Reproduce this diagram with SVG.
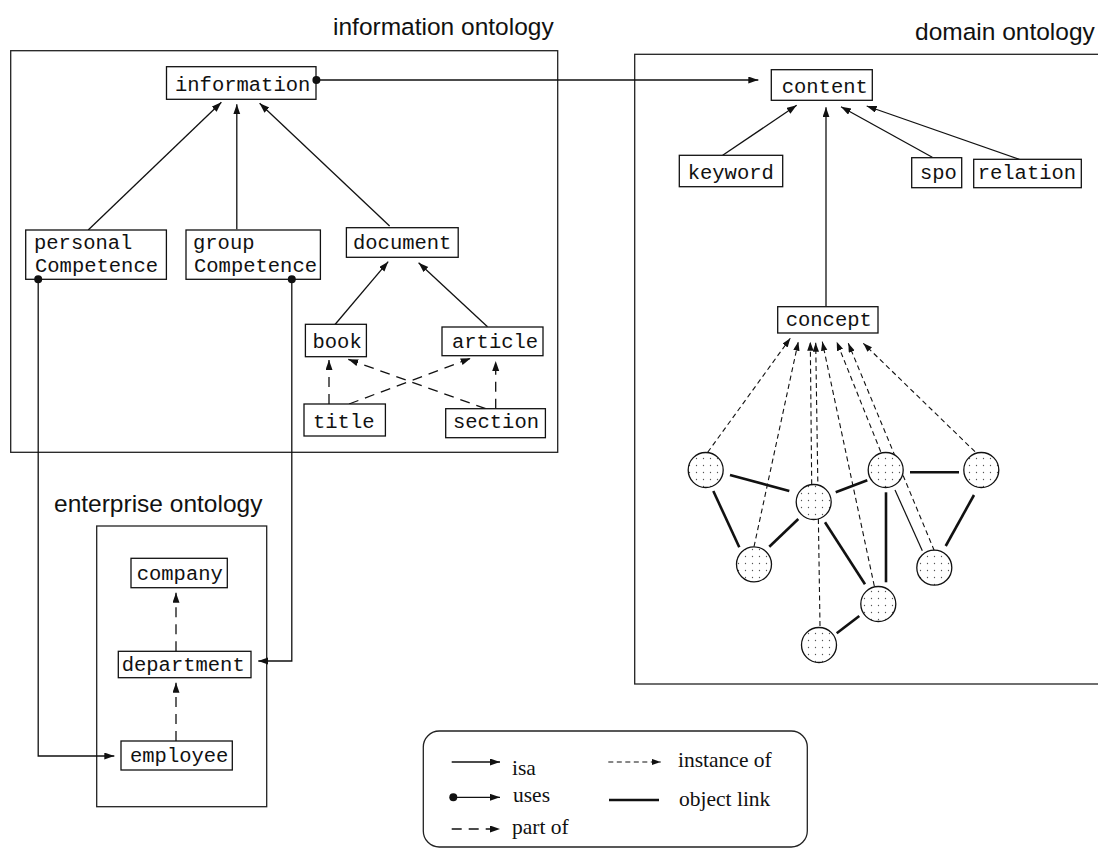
<svg xmlns="http://www.w3.org/2000/svg" width="1098" height="848" viewBox="0 0 1098 848">
  <style>
    .frame { fill: none; stroke: #222; stroke-width: 1.3; }
    .box { fill: #fff; stroke: #111; stroke-width: 1.3; }
    .mono { font-family: "Liberation Mono", "DejaVu Sans Mono", monospace; font-size: 20.5px; fill: #111; }
    .title { font-family: "Liberation Sans", Arial, sans-serif; font-size: 24.5px; fill: #111; }
    .serif { font-family: "Liberation Serif", "Times New Roman", serif; font-size: 21.5px; fill: #111; }
    .isa { fill: none; stroke: #111; stroke-width: 1.3; marker-end: url(#arrow); }
    .uses { fill: none; stroke: #111; stroke-width: 1.3; marker-start: url(#dot); marker-end: url(#arrow); }
    .partof { fill: none; stroke: #111; stroke-width: 1.3; stroke-dasharray: 10 7; marker-end: url(#arrow); }
    .inst { fill: none; stroke: #111; stroke-width: 1.1; stroke-dasharray: 5 3.5; marker-end: url(#arrowSmall); }
    .link { fill: none; stroke: #111; stroke-width: 2.6; }
    .thin { fill: none; stroke: #111; stroke-width: 1.2; }
    .inst-node { fill: url(#dots); stroke: #111; stroke-width: 1.3; }
  </style>
  <defs>
    <marker id="arrow" markerUnits="userSpaceOnUse" markerWidth="11" markerHeight="8" refX="10" refY="3.5" orient="auto">
      <path d="M0,0 L10,3.5 L0,7 z" fill="#111"/>
    </marker>
    <marker id="arrowSmall" markerUnits="userSpaceOnUse" markerWidth="10" markerHeight="8" refX="9" refY="3.2" orient="auto">
      <path d="M0,0 L9,3.2 L0,6.4 z" fill="#111"/>
    </marker>
    <marker id="dot" markerUnits="userSpaceOnUse" markerWidth="10" markerHeight="10" refX="5" refY="5" orient="auto">
      <circle cx="5" cy="5" r="4" fill="#111"/>
    </marker>
    <pattern id="dots" patternUnits="userSpaceOnUse" width="7" height="7">
      <rect width="7" height="7" fill="#fff"/>
      <circle cx="3.5" cy="3.5" r="0.65" fill="#555"/>
    </pattern>
  </defs>

  <!-- ontology frames and titles -->
  <g id="information-ontology">
    <rect class="frame" x="10.7" y="50.7" width="547" height="401.6"/>
    <text class="title" x="333" y="35">information ontology</text>
  </g>
  <g id="domain-ontology">
    <rect class="frame" x="634.7" y="54.3" width="470" height="629.7"/>
    <text class="title" x="915" y="40">domain ontology</text>
  </g>
  <g id="enterprise-ontology">
    <rect class="frame" x="96.7" y="526" width="170" height="280.7"/>
    <text class="title" x="54" y="511.7">enterprise ontology</text>
  </g>

  <!-- connectors drawn beneath the nodes -->
  <g id="connectors">
    <!-- isa: information ontology -->
    <line class="isa" x1="88.2" y1="230" x2="221.4" y2="102.3"/>
    <line class="isa" x1="236.8" y1="229.3" x2="236.8" y2="104.3"/>
    <line class="isa" x1="389.6" y1="226" x2="259.6" y2="103.3"/>
    <line class="isa" x1="334.6" y1="325" x2="388.2" y2="261.7"/>
    <line class="isa" x1="487.5" y1="326.7" x2="418.6" y2="262.7"/>
    <!-- part of: document parts -->
    <line class="partof" x1="329" y1="404" x2="329" y2="360"/>
    <line class="partof" x1="495.7" y1="408.7" x2="495.7" y2="361"/>
    <line class="partof" x1="349" y1="404" x2="470.7" y2="358.3"/>
    <line class="partof" x1="485.7" y1="408.7" x2="348.2" y2="359.3"/>
    <!-- part of: enterprise -->
    <line class="partof" x1="176" y1="651.3" x2="176" y2="592.7"/>
    <line class="partof" x1="176" y1="741" x2="176" y2="682.7"/>
    <!-- isa: domain ontology -->
    <line class="isa" x1="722.7" y1="155.3" x2="796.7" y2="105.3"/>
    <line class="isa" x1="826" y1="306.7" x2="826" y2="107.3"/>
    <line class="isa" x1="932.3" y1="157.3" x2="841" y2="106.7"/>
    <line class="isa" x1="1019.3" y1="159.3" x2="866.7" y2="106"/>
    <!-- instance of -->
    <line class="inst" x1="707.7" y1="452.3" x2="790.3" y2="338.3"/>
    <line class="inst" x1="754" y1="546.7" x2="798.3" y2="341.7"/>
    <line class="inst" x1="811.7" y1="484.3" x2="810.3" y2="341.7"/>
    <line class="inst" x1="820" y1="626" x2="815.7" y2="342.7"/>
    <line class="inst" x1="874.3" y1="586" x2="822.3" y2="341.7"/>
    <line class="inst" x1="880.7" y1="451.7" x2="836.7" y2="341.7"/>
    <line class="inst" x1="934.3" y1="550.7" x2="848.3" y2="343.3"/>
    <line class="inst" x1="975" y1="451.7" x2="863.3" y2="343.3"/>
    <!-- object links -->
    <line class="link" x1="730" y1="475" x2="789.3" y2="491"/>
    <line class="link" x1="713.3" y1="491" x2="739.3" y2="547.3"/>
    <line class="link" x1="835.7" y1="492.3" x2="867.3" y2="480.3"/>
    <line class="link" x1="910" y1="472.3" x2="959" y2="472.3"/>
    <line class="link" x1="798.3" y1="519" x2="769.3" y2="546.7"/>
    <line class="link" x1="825" y1="522.3" x2="865" y2="584.3"/>
    <line class="link" x1="886" y1="492.3" x2="886" y2="582.3"/>
    <line class="thin" x1="895" y1="490" x2="922.3" y2="550.7"/>
    <line class="link" x1="974" y1="495" x2="945.7" y2="546"/>
    <line class="link" x1="836.7" y1="633.3" x2="859.3" y2="616"/>
  </g>

  <!-- information ontology nodes -->
  <g id="node-information">
    <rect class="box" x="166.5" y="66.7" width="149.5" height="32.6"/>
    <text class="mono" x="175" y="91">information</text>
  </g>
  <g id="node-personalCompetence">
    <rect class="box" x="25.7" y="230" width="140.7" height="49.3"/>
    <text class="mono" x="34" y="249">personal</text>
    <text class="mono" x="35" y="272">Competence</text>
  </g>
  <g id="node-groupCompetence">
    <rect class="box" x="186" y="230" width="134.4" height="49.3"/>
    <text class="mono" x="193" y="249">group</text>
    <text class="mono" x="194" y="272">Competence</text>
  </g>
  <g id="node-document">
    <rect class="box" x="346.4" y="227.7" width="111.8" height="29.6"/>
    <text class="mono" x="353" y="249">document</text>
  </g>
  <g id="node-book">
    <rect class="box" x="305.4" y="324.3" width="61" height="32.4"/>
    <text class="mono" x="312.5" y="347.7">book</text>
  </g>
  <g id="node-article">
    <rect class="box" x="442" y="327" width="101" height="28.7"/>
    <text class="mono" x="452" y="347.7">article</text>
  </g>
  <g id="node-title">
    <rect class="box" x="304" y="404" width="81.4" height="32"/>
    <text class="mono" x="313" y="427.7">title</text>
  </g>
  <g id="node-section">
    <rect class="box" x="445.7" y="408.7" width="99.7" height="29"/>
    <text class="mono" x="452.9" y="427.7">section</text>
  </g>

  <!-- domain ontology nodes -->
  <g id="node-content">
    <rect class="box" x="771.3" y="69.7" width="101" height="30.6"/>
    <text class="mono" x="781.7" y="92.7">content</text>
  </g>
  <g id="node-keyword">
    <rect class="box" x="679.3" y="155.3" width="103.4" height="31.4"/>
    <text class="mono" x="687.7" y="179">keyword</text>
  </g>
  <g id="node-spo">
    <rect class="box" x="911.7" y="157.7" width="50" height="30"/>
    <text class="mono" x="920" y="179">spo</text>
  </g>
  <g id="node-relation">
    <rect class="box" x="973.7" y="159.3" width="107.6" height="28.4"/>
    <text class="mono" x="977.7" y="179">relation</text>
  </g>
  <g id="node-concept">
    <rect class="box" x="777.7" y="306.7" width="100.3" height="26.3"/>
    <text class="mono" x="785.7" y="326">concept</text>
  </g>

  <!-- concept instances -->
  <g id="instance-1"><circle class="inst-node" cx="705.7" cy="470" r="17.5"/></g>
  <g id="instance-2"><circle class="inst-node" cx="813.7" cy="502" r="17.5"/></g>
  <g id="instance-3"><circle class="inst-node" cx="885.7" cy="470" r="17.5"/></g>
  <g id="instance-4"><circle class="inst-node" cx="981.3" cy="470" r="17.5"/></g>
  <g id="instance-5"><circle class="inst-node" cx="754" cy="564.3" r="17.5"/></g>
  <g id="instance-6"><circle class="inst-node" cx="934.3" cy="567.7" r="17.5"/></g>
  <g id="instance-7"><circle class="inst-node" cx="878.3" cy="604" r="17.5"/></g>
  <g id="instance-8"><circle class="inst-node" cx="819" cy="645" r="17.5"/></g>

  <!-- enterprise ontology nodes -->
  <g id="node-company">
    <rect class="box" x="131" y="558.3" width="96.3" height="29.4"/>
    <text class="mono" x="136.7" y="580">company</text>
  </g>
  <g id="node-department">
    <rect class="box" x="118.3" y="651.3" width="132.7" height="26.4"/>
    <text class="mono" x="121.7" y="670.7">department</text>
  </g>
  <g id="node-employee">
    <rect class="box" x="121" y="741" width="111.3" height="29"/>
    <text class="mono" x="130" y="761.7">employee</text>
  </g>

  <!-- uses connectors sit on top so their start dots stay whole -->
  <g id="connectors-uses">
    <line class="uses" x1="316.4" y1="80" x2="758.3" y2="80"/>
    <polyline class="uses" points="38.2,279.3 38.2,756 114.3,756"/>
    <polyline class="uses" points="291.8,279.3 291.8,661 258.3,661"/>
  </g>

  <!-- legend -->
  <g id="legend">
    <rect class="frame" x="423.3" y="731" width="384" height="116" rx="16" ry="16"/>
    <line class="isa" x1="451.7" y1="762" x2="500" y2="762"/>
    <text class="serif" x="512" y="775">isa</text>
    <line class="uses" x1="453.3" y1="797.3" x2="500" y2="797.3"/>
    <text class="serif" x="513" y="801.7">uses</text>
    <line class="partof" x1="451.7" y1="829" x2="500" y2="829"/>
    <text class="serif" x="512" y="834.3">part of</text>
    <line class="inst" x1="608.3" y1="762" x2="660.7" y2="762"/>
    <text class="serif" x="678" y="766.7">instance of</text>
    <line class="link" x1="609" y1="800" x2="659" y2="800"/>
    <text class="serif" x="679" y="806">object link</text>
  </g>
</svg>
